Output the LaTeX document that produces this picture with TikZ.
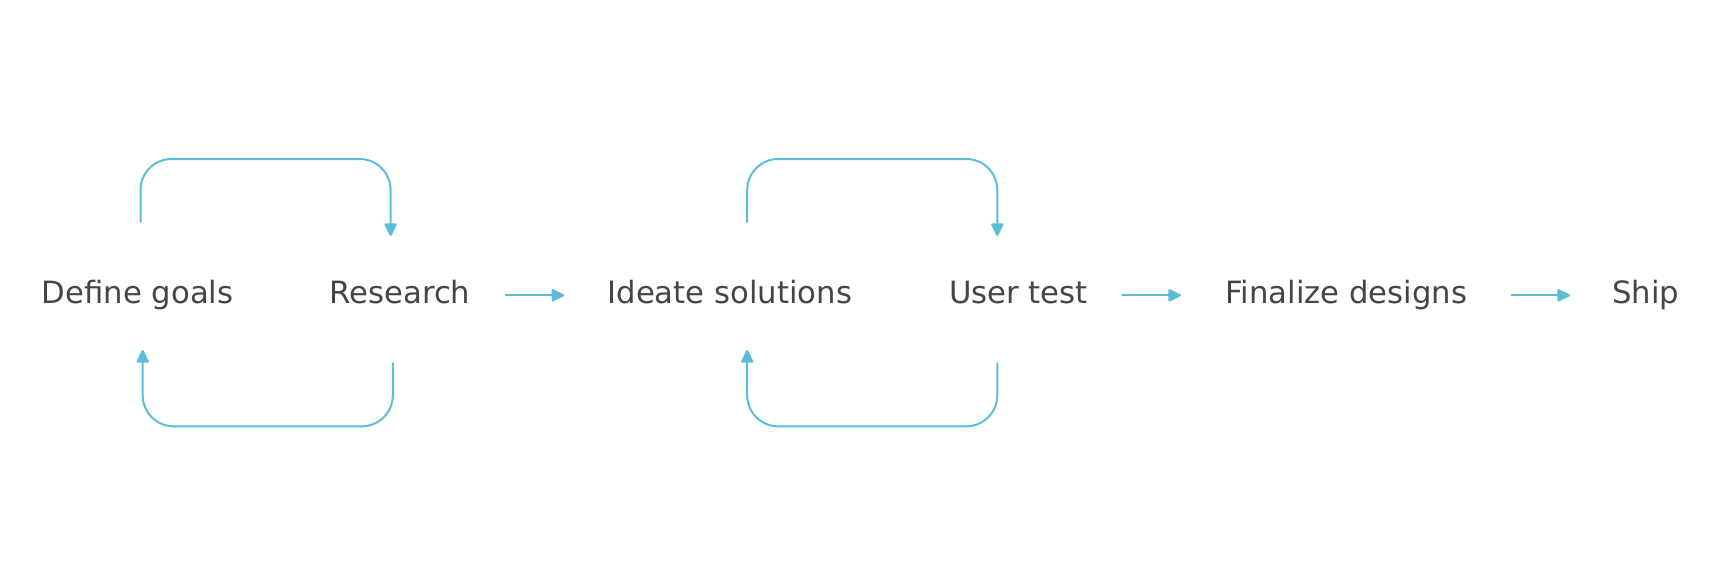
\documentclass[tikz,border=0pt]{standalone}
\usepackage{fontspec}
\setmainfont{DejaVu Sans}
\usetikzlibrary{arrows.meta}
\definecolor{flowblue}{HTML}{5BBDD6}
\definecolor{txtgray}{HTML}{454545}
\tikzset{
  lbl/.style={anchor=base west, inner sep=0pt, text height=22pt, text depth=6pt,
    font=\fontsize{30.7}{36}\selectfont, text=txtgray},
  conn/.style={draw=flowblue, line width=2pt,
    -{Triangle[length=14pt,width=13pt,round]}},
  loopline/.style={conn, rounded corners=31pt},
}
\begin{document}
\begin{tikzpicture}[x=1pt,y=-1pt]
\useasboundingbox (0,0) rectangle (1720,586);
\node[lbl] (dg) at (41.7,303.3) {Define goals};
\node[lbl] (rs) at (329.3,303.3) {Research};
\node[lbl] (is) at (607.3,303.3) {Ideate solutions};
\node[lbl] (ut) at (949,303.3) {User test};
\node[lbl] (fd) at (1225,303.3) {Finalize designs};
\node[lbl] (sh) at (1612,303.3) {Ship};

\draw[conn, shorten <=34pt, shorten >=43pt] (rs.east) -- (is.west);
\draw[conn, shorten <=34pt, shorten >=44pt] (ut.east) -- (fd.west);
\draw[conn, shorten <=43.7pt, shorten >=42pt] (fd.east) -- (sh.west);

% loop 1
\coordinate (a1) at (140.5,222.7);
\coordinate (t1) at (265,159);
\coordinate (b1) at (390.6,236);
\coordinate (c1) at (392.8,362.7);
\coordinate (u1) at (265,426.3);
\coordinate (d1) at (142.7,350);
\draw[loopline] (a1) |- (t1) -| (b1);
\draw[loopline] (c1) |- (u1) -| (d1);

% loop 2
\coordinate (a2) at (747.2,222.7);
\coordinate (t2) at (872,159);
\coordinate (b2) at (997.3,236);
\coordinate (c2) at (997.3,362.7);
\coordinate (u2) at (872,426.3);
\coordinate (d2) at (747.2,350);
\draw[loopline] (a2) |- (t2) -| (b2);
\draw[loopline] (c2) |- (u2) -| (d2);
\end{tikzpicture}
\end{document}
